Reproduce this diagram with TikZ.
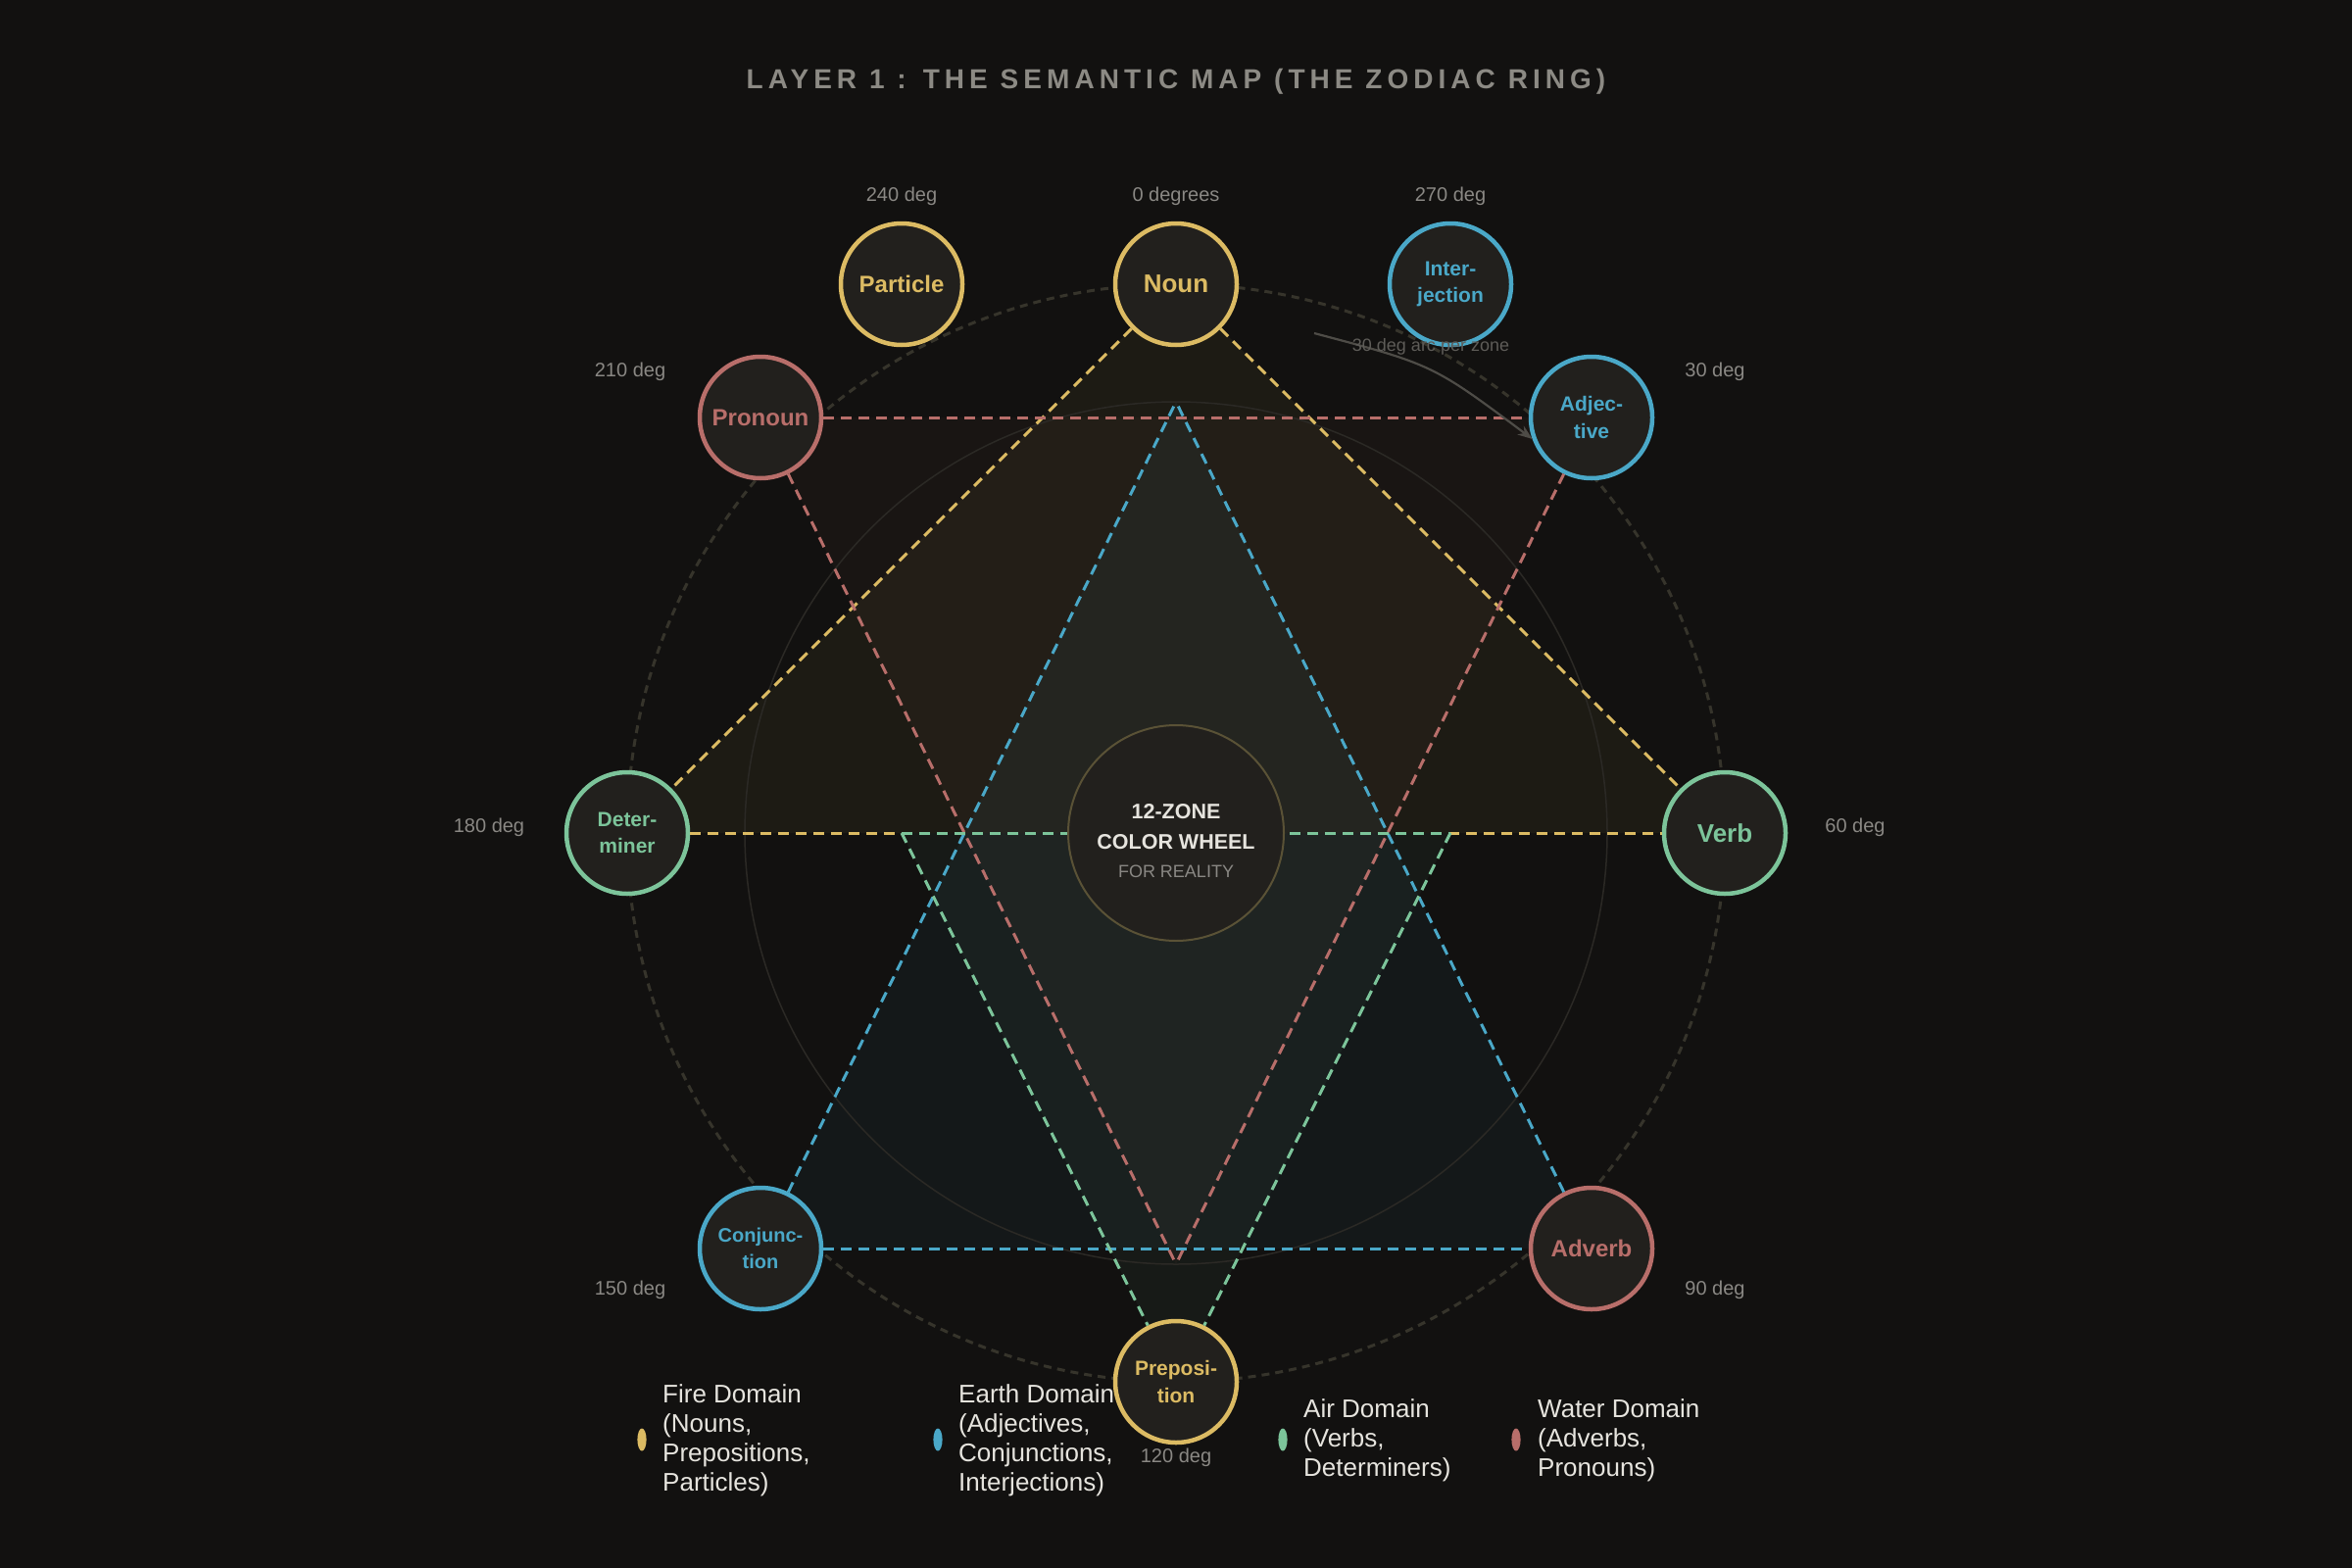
\documentclass[tikz,border=0pt]{standalone}
\usepackage{fontspec}
\setmainfont{Liberation Sans}
\newfontfamily\titlefont[LetterSpace=18]{Liberation Sans}
\usetikzlibrary{arrows.meta}
\definecolor{bg}{HTML}{121110}
\definecolor{nodefill}{HTML}{22201D}
\definecolor{fire}{HTML}{DCBB63}
\definecolor{earth}{HTML}{4AA8C8}
\definecolor{air}{HTML}{7CC49A}
\definecolor{water}{HTML}{B86E6A}
\definecolor{titlegray}{HTML}{8C8A84}
\definecolor{deggray}{HTML}{8A8884}
\definecolor{notegray}{HTML}{5E5C58}
\definecolor{ringcol}{HTML}{36342B}
\definecolor{innercol}{HTML}{2B2925}
\definecolor{centrecol}{HTML}{5A5236}
\definecolor{legendtxt}{HTML}{E6E4DE}
\begin{document}
\begin{tikzpicture}[x=1pt,y=-1pt,
  wordnode/.style={circle, minimum size=124pt, inner sep=0pt, line width=4.5pt, fill=nodefill, align=center},
  big/.style={font=\bfseries\fontsize{26}{28}\selectfont},
  mid/.style={font=\bfseries\fontsize{24}{28}\selectfont},
  two/.style={font=\bfseries\fontsize{21}{27.5}\selectfont},
  tri/.style={line width=3pt, dash pattern=on 11pt off 7pt},
  deglabel/.style={text=deggray, font=\fontsize{20}{24}\selectfont, inner sep=0pt},
  legend/.style={text=legendtxt, font=\fontsize{26}{30}\selectfont, align=left, anchor=west, inner sep=0pt}
]
\useasboundingbox[fill=bg] (0,0) rectangle (2400,1600);

% key points
\coordinate (c) at (1200,850);
\coordinate (blueapex) at (1200,410);
\coordinate (redapex) at (1200,1290);
\coordinate (gL) at (920,850);
\coordinate (gR) at (1480,850);

% triangle fills
\fill[fire, fill opacity=0.06] (1200,290) -- (1760,850) -- (640,850) -- cycle;
\fill[water, fill opacity=0.045] (776,426) -- (1624,426) -- (redapex) -- cycle;
\fill[earth, fill opacity=0.05] (blueapex) -- (1624,1274) -- (776,1274) -- cycle;
\fill[air, fill opacity=0.05] (gL) -- (gR) -- (1200,1410) -- cycle;

% rings
\draw[ringcol, line width=3pt, dash pattern=on 8pt off 6pt] (c) circle (560);
\draw[innercol, line width=1.5pt] (c) circle (440);

% nodes
\node[wordnode, draw=fire, text=fire, big] (noun) at (1200,290) {Noun};
\node[wordnode, draw=fire, text=fire, mid] (part) at (920,290) {Particle};
\node[wordnode, draw=earth, text=earth, two] (inter) at (1480,290) {Inter-\\jection};
\node[wordnode, draw=water, text=water, mid] (pron) at (776,426) {Pronoun};
\node[wordnode, draw=earth, text=earth, two] (adj) at (1624,426) {Adjec-\\tive};
\node[wordnode, draw=air, text=air, two] (det) at (640,850) {Deter-\\miner};
\node[wordnode, draw=air, text=air, big] (verb) at (1760,850) {Verb};
\node[wordnode, draw=earth, text=earth, font=\bfseries\fontsize{20}{27.5}\selectfont] (conj) at (776,1274) {Conjunc-\\tion};
\node[wordnode, draw=water, text=water, mid] (adv) at (1624,1274) {Adverb};
\node[wordnode, draw=fire, text=fire, two] (prep) at (1200,1410) {Preposi-\\tion};

% triangle edges
\draw[tri, fire] (noun) -- (verb);
\draw[tri, fire] (noun) -- (det);
\draw[tri, fire] (det) -- (verb);
\draw[tri, water] (pron) -- (adj);
\draw[tri, water] (pron) -- (redapex);
\draw[tri, water] (adj) -- (redapex);
\draw[tri, earth] (conj) -- (adv);
\draw[tri, earth] (conj) -- (blueapex);
\draw[tri, earth] (adv) -- (blueapex);
\draw[tri, air] (gL) -- (gR);
\draw[tri, air] (gL) -- (prep);
\draw[tri, air] (gR) -- (prep);

% centre
\node[circle, minimum size=220pt, inner sep=0pt, draw=centrecol, line width=2pt, fill=nodefill] (centre) at (c) {};
\node[text=legendtxt, font=\bfseries\fontsize{21.5}{24}\selectfont, inner sep=0pt] (ct1) at (1200,828) {12-ZONE};
\node[text=legendtxt, font=\bfseries\fontsize{21.5}{24}\selectfont, inner sep=0pt] (ct2) at (1200,859) {COLOR WHEEL};
\node[text=deggray, font=\fontsize{18}{22}\selectfont, inner sep=0pt] (ct3) at (1200,889) {FOR REALITY};

% title
\node[text=titlegray, font=\titlefont\bfseries\fontsize{28}{32}\selectfont, inner sep=0pt] (title) at (1200,83) {LAYER 1 : THE SEMANTIC MAP (THE ZODIAC RING)};

% degree labels
\node[deglabel] (d240) at (920,200) {240 deg};
\node[deglabel] (d0) at (1200,200) {0 degrees};
\node[deglabel] (d270) at (1480,200) {270 deg};
\node[deglabel] (d210) at (643,379) {210 deg};
\node[deglabel] (d30) at (1750,379) {30 deg};
\node[deglabel] (d180) at (499,844) {180 deg};
\node[deglabel] (d60) at (1893,844) {60 deg};
\node[deglabel] (d150) at (643,1316) {150 deg};
\node[deglabel] (d90) at (1750,1316) {90 deg};
\node[deglabel] (d120) at (1200,1487) {120 deg};

% arc note and arrow
\coordinate (arrstart) at (1341,340);
\draw[color=notegray!110, line width=2.2pt, -{Stealth[length=15pt,width=11pt]}] (arrstart) .. controls (1462,372) .. (adj.200);
\node[text=notegray, font=\fontsize{18}{22}\selectfont, inner sep=0pt] (note) at (1460,354) {30 deg arc per zone};

% legend
\fill[fire] (655,1469) ellipse (4.6 and 11.5);
\node[legend] (lfire) at (676,1470) {Fire Domain\\(Nouns,\\Prepositions,\\Particles)};
\fill[earth] (957,1469) ellipse (4.6 and 11.5);
\node[legend] (learth) at (978,1470) {Earth Domain\\(Adjectives,\\Conjunctions,\\Interjections)};
\fill[air] (1309,1469) ellipse (4.6 and 11.5);
\node[legend] (lair) at (1330,1470) {Air Domain\\(Verbs,\\Determiners)};
\fill[water] (1547,1469) ellipse (4.6 and 11.5);
\node[legend] (lwater) at (1569,1470) {Water Domain\\(Adverbs,\\Pronouns)};
\end{tikzpicture}
\end{document}
